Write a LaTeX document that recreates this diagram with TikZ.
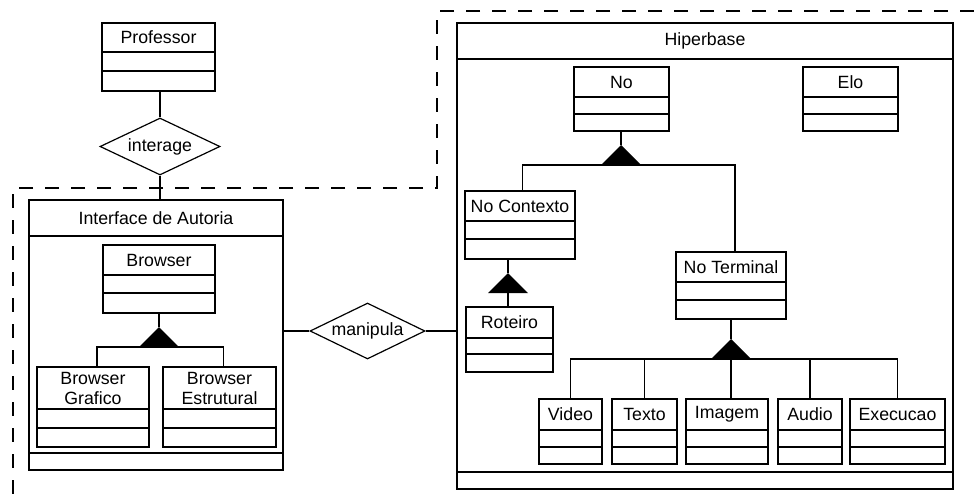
\documentclass[tikz,border=0pt]{standalone}
\usepackage{fontspec}
\setmainfont{Liberation Sans}
\usetikzlibrary{fit,shapes.geometric}

\tikzset{
  edge/.style={line width=1.05pt},
  boxline/.style={draw, line width=1.05pt, inner sep=0pt, outer sep=0pt},
  caption/.style={font=\fontsize{13.3}{15}\selectfont, inner sep=0pt, align=center},
  rel/.style={draw, shape=diamond, shape aspect=2.05, line width=0.9pt, inner sep=0pt,
              font=\fontsize{13.3}{15}\selectfont},
  boundary/.style={line width=1.2pt, dash pattern=on 10.5pt off 9pt},
}

% UML class box: name, x1, y1, x2, y2, first divider, second divider, title
\newcommand\umlclass[8]{%
  \node[boxline, fit={(#2,#3) (#4,#5)}] (#1) {};
  \draw[edge] (#2,#6) -- (#4,#6) (#2,#7) -- (#4,#7);
  \node[caption] (#1-t) at ({(#2+#4)/2},{(#3+#6)/2}) {#8};
}

% generalization triangle: name, apex x, apex y
\newcommand\gentri[3]{%
  \coordinate (#1) at (#2,#3);
  \coordinate (#1-b) at (#2,{#3+20});
  \fill (#1) -- ++(-20,20) -- ++(40,0) -- cycle;
}

\begin{document}
\begin{tikzpicture}[x=0.75pt,y=-0.75pt]
\useasboundingbox (0,0) rectangle (974,497);

% package boundary
\draw[boundary] (974,11) -- (437,11) -- (437,188) -- (13,188) -- (13,497);

% actor side
\umlclass{prof}{102}{23}{215}{91}{52}{71}{Professor}
\node[rel, minimum width=90pt, minimum height=42.75pt] (interage) at (160,146.5) {interage};

% authoring interface
\umlclass{iface}{29}{200}{283}{470}{236}{453}{Interface de Autoria}
\umlclass{browser}{103}{245}{215}{313}{275}{293}{Browser}
\umlclass{bgraf}{37}{367}{149}{447}{409}{428}{Browser\\Grafico}
\umlclass{bestr}{163}{367}{276}{447}{409}{428}{Browser\\Estrutural}
\gentri{g1}{159}{327}

\node[rel, minimum width=86.25pt, minimum height=42pt] (manip) at (367.5,331) {manipula};

% hyperbase
\umlclass{hiper}{457}{23}{953}{489}{59}{472}{Hiperbase}
\umlclass{no}{574}{67}{669}{131}{97}{114}{No}
\umlclass{elo}{803}{67}{898}{131}{97}{114}{Elo}
\umlclass{noctx}{465}{191}{575}{259}{221}{239}{No Contexto}
\umlclass{roteiro}{466}{307}{553}{372}{338}{354}{Roteiro}
\umlclass{noterm}{676}{252}{786}{319}{282}{300}{No Terminal}
\umlclass{video}{539}{399}{602}{464}{430}{447}{Video}
\umlclass{texto}{612}{399}{677}{464}{430}{447}{Texto}
\umlclass{imagem}{686}{399}{768}{464}{430}{447}{Imagem}
\umlclass{audio}{778}{399}{842}{464}{430}{447}{Audio}
\umlclass{exec}{850}{399}{945}{464}{430}{447}{Execucao}
\gentri{g2}{621}{145}
\gentri{g3}{508}{273}
\gentri{g4}{731}{339}

% associations
\draw[edge] (interage.north) -- (interage.north |- prof.south);
\draw[edge] (interage.south) -- (interage.south |- iface.north);
\draw[edge] (manip.west) -- (manip.west -| iface.east);
\draw[edge] (manip.east) -- (manip.east -| hiper.west);

% generalizations
\draw[edge] (browser.south) -- (g1);
\draw[edge] ([xshift=3pt]bgraf.north) |- (g1-b) -| ([xshift=3pt]bestr.north);

\draw[edge] (g2 |- no.south) -- (g2);
\draw[edge] ([xshift=2pt]noctx.north) |- (g2-b) -| ([xshift=3pt]noterm.north);

\draw[edge] (g3 |- noctx.south) -- (g3);
\draw[edge] (g3-b) -- (g3-b |- roteiro.north);

\draw[edge] (g4 |- noterm.south) -- (g4);
\draw[edge] (video.north) |- (g4-b) -| (exec.north);
\draw[edge] (texto.north) -- (texto.north |- g4-b);
\draw[edge] (g4-b) -- (g4-b |- imagem.north);
\draw[edge] (audio.north) -- (audio.north |- g4-b);
\end{tikzpicture}
\end{document}
